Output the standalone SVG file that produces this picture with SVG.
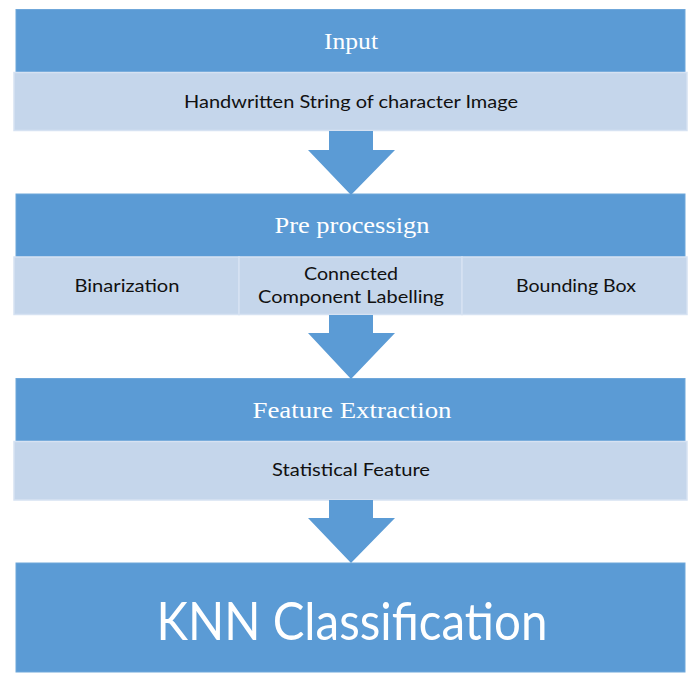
<svg xmlns="http://www.w3.org/2000/svg" width="691" height="675" viewBox="0 0 691 675">
<style>
.hdr{fill:#5B9BD5;stroke:#6FA7DA;stroke-width:1}
.band{fill:#C5D6EB;stroke:#D6E2F2;stroke-width:1.5}
.arrow{fill:#5B9BD5}
.ht{font-family:"Liberation Serif",serif;fill:#FFFFFF;text-anchor:middle}
.bt{font-family:Lato,"Open Sans",sans-serif;fill:#111111;text-anchor:middle;font-size:16.5px}
.kt{font-family:Lato,"Open Sans",sans-serif;fill:#FFFFFF;text-anchor:middle;font-size:52px}
</style>
<rect width="691" height="675" fill="#FFFFFF"/>
<g id="input">
<rect class="hdr" x="16" y="9.5" width="669" height="63"/>
<text class="ht" x="351" y="49" font-size="23" textLength="54" lengthAdjust="spacingAndGlyphs">Input</text>
</g>
<g id="input-detail">
<rect class="band" x="14" y="72.5" width="673" height="58"/>
<text class="bt" x="351" y="108" textLength="334" lengthAdjust="spacingAndGlyphs">Handwritten String of character Image</text>
</g>
<g id="preprocessing">
<rect class="hdr" x="16" y="194" width="669" height="63"/>
<text class="ht" x="352" y="233" font-size="24" textLength="155" lengthAdjust="spacingAndGlyphs">Pre processign</text>
</g>
<g id="binarization">
<rect class="band" x="14" y="257" width="225" height="57.5"/>
<text class="bt" x="127" y="292" textLength="105" lengthAdjust="spacingAndGlyphs">Binarization</text>
</g>
<g id="ccl">
<rect class="band" x="239" y="257" width="223" height="57.5"/>
<text class="bt" x="351" y="280" textLength="94" lengthAdjust="spacingAndGlyphs">Connected</text>
<text class="bt" x="351" y="303" textLength="186" lengthAdjust="spacingAndGlyphs">Component Labelling</text>
</g>
<g id="bounding-box">
<rect class="band" x="462" y="257" width="225" height="57.5"/>
<text class="bt" x="576" y="292" textLength="120" lengthAdjust="spacingAndGlyphs">Bounding Box</text>
</g>
<g id="feature-extraction">
<rect class="hdr" x="16" y="378.5" width="669" height="63"/>
<text class="ht" x="352" y="418" font-size="24" textLength="199" lengthAdjust="spacingAndGlyphs">Feature Extraction</text>
</g>
<g id="statistical-feature">
<rect class="band" x="14" y="441.5" width="673" height="58.5"/>
<text class="bt" x="351" y="476" textLength="158" lengthAdjust="spacingAndGlyphs">Statistical Feature</text>
</g>
<g id="knn">
<rect class="hdr" x="16" y="563" width="669" height="109"/>
<text class="kt" x="352" y="640" textLength="391" lengthAdjust="spacingAndGlyphs">KNN Classification</text>
</g>
<g id="connectors">
<polygon class="arrow" points="329,131 373,131 373,150 395,150 351,195 308,150 329,150"/>
<polygon class="arrow" points="329,315 373,315 373,333 395,333 351,379 308,333 329,333"/>
<polygon class="arrow" points="329,500 373,500 373,518 395,518 351,563 308,518 329,518"/>
</g>
</svg>
